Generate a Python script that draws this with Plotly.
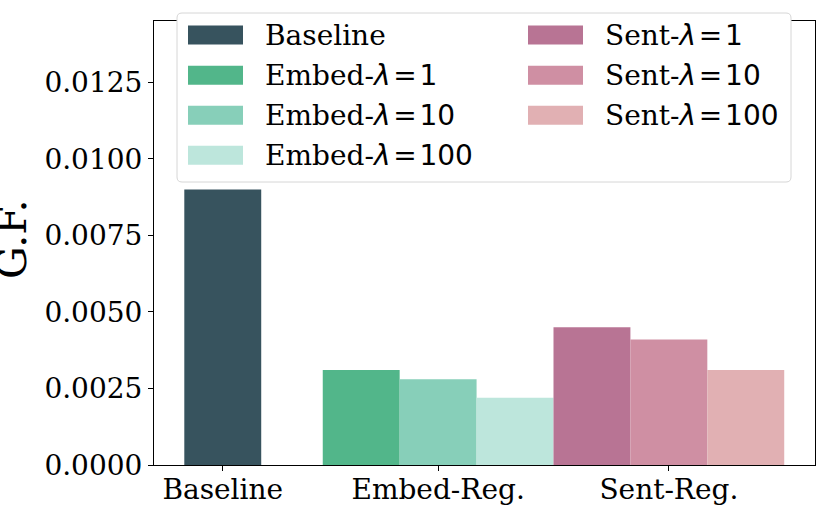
import plotly.graph_objects as go

# chart values
groups = ['Baseline', 'Embed-Reg.', 'Sent-Reg.']
series_names = ['Baseline', 'Embed-λ=1', 'Embed-λ=10', 'Embed-λ=100',
                'Sent-λ=1', 'Sent-λ=10', 'Sent-λ=100']
series_group = [0, 1, 1, 1, 2, 2, 2]
series_values = [0.0090, 0.0031, 0.0028, 0.0022, 0.0045, 0.0041, 0.0031]
y_ticks = [0, 0.0025, 0.0050, 0.0075, 0.0100, 0.0125]
legend_prefix = ['Baseline', 'Embed-', 'Embed-', 'Embed-', 'Sent-', 'Sent-', 'Sent-']
legend_lambda = [None, '1', '10', '100', '1', '10', '100']

# layout / style (kept apart from the data)
group_centers = [0, 2.8, 5.8]
bar_offsets = [0, -1, 0, 1, -1, 0, 1]
colors = ['#37535e', '#52b68a', '#87cfb9', '#bde6dc',
          '#b87494', '#cf8fa3', '#e1b0b3']

W, H = 830, 519
L, R, T, B = 154, 15, 21, 54
SERIF = 'DejaVu Serif'
FS = 28
SP = '\u200a'  # hair space, mathtext puts little room round "="


def px_x(px):
    """pixel x -> paper x"""
    return (px - L) / (W - L - R)


def px_y(py):
    """pixel y (from top) -> paper y"""
    return (H - B - py) / (H - T - B)


def legend_text(prefix, lam):
    """matplotlib mathtext look: serif prefix, sans italic lambda part"""
    if lam is None:
        return prefix
    return (f'{prefix}<span style="font-family:DejaVu Sans"><i>λ</i>'
            f'{SP}={SP}{lam}</span>')


fig = go.Figure()

for name, g, off, val, col in zip(series_names, series_group, bar_offsets, series_values, colors):
    fig.add_trace(go.Bar(
        x=[group_centers[g] + off],
        y=[val],
        width=1,
        name=name,
        marker=dict(color=col, line=dict(width=0)),
        showlegend=False,
    ))

fig.update_layout(
    width=W, height=H,
    margin=dict(l=L, r=R, t=T, b=B, autoexpand=False),
    plot_bgcolor='white',
    paper_bgcolor='white',
    barmode='overlay',
    font=dict(family=SERIF, size=FS, color='black'),
)

fig.update_xaxes(
    range=[-0.894, 7.70],
    tickvals=group_centers,
    ticktext=groups,
    ticks='outside', ticklen=5, tickwidth=1, tickcolor='black',
    showline=True, linecolor='black', linewidth=1, mirror=True,
    showgrid=False, zeroline=False, automargin=False,
    ticklabelstandoff=-6,
    tickfont=dict(family=SERIF, size=FS, color='black'),
)
fig.update_yaxes(
    range=[0, 0.0145],
    tickvals=y_ticks,
    tickformat='.4f',
    ticks='outside', ticklen=5, tickwidth=1, tickcolor='black',
    showline=True, linecolor='black', linewidth=1, mirror=True,
    showgrid=False, zeroline=False, automargin=False,
    tickfont=dict(family=SERIF, size=FS, color='black'),
)

# y axis title
fig.add_annotation(
    text='G.F.', xref='paper', yref='paper',
    x=px_x(12), y=px_y(240), xanchor='center', yanchor='middle',
    textangle=-90, showarrow=False,
    font=dict(family=SERIF, size=41, color='black'),
)

# legend drawn by hand to get matplotlib-like wide swatches
lx0, lx1, ly0, ly1, rad = 177, 791, 13, 182, 5
box = (f'M {px_x(lx0 + rad)},{px_y(ly0)} L {px_x(lx1 - rad)},{px_y(ly0)} '
       f'Q {px_x(lx1)},{px_y(ly0)} {px_x(lx1)},{px_y(ly0 + rad)} '
       f'L {px_x(lx1)},{px_y(ly1 - rad)} '
       f'Q {px_x(lx1)},{px_y(ly1)} {px_x(lx1 - rad)},{px_y(ly1)} '
       f'L {px_x(lx0 + rad)},{px_y(ly1)} '
       f'Q {px_x(lx0)},{px_y(ly1)} {px_x(lx0)},{px_y(ly1 - rad)} '
       f'L {px_x(lx0)},{px_y(ly0 + rad)} '
       f'Q {px_x(lx0)},{px_y(ly0)} {px_x(lx0 + rad)},{px_y(ly0)} Z')
fig.add_shape(type='path', path=box, xref='paper', yref='paper',
              fillcolor='white', line=dict(color='#d6d6d6', width=1), layer='above')

col_x = [188, 528]
row_y = [35, 75.3, 115.3, 155.3]
sw_w, sw_h = 55, 19
slots = [(0, 0), (0, 1), (0, 2), (0, 3), (1, 0), (1, 1), (1, 2)]
for (c, r), pre, lam, col in zip(slots, legend_prefix, legend_lambda, colors):
    sx, sy = col_x[c], row_y[r]
    fig.add_shape(type='rect', xref='paper', yref='paper',
                  x0=px_x(sx), x1=px_x(sx + sw_w),
                  y0=px_y(sy - sw_h / 2), y1=px_y(sy + sw_h / 2),
                  fillcolor=col, line=dict(width=0), layer='above')
    fig.add_annotation(text=legend_text(pre, lam), xref='paper', yref='paper',
                       x=px_x(sx + 75), y=px_y(sy), xanchor='left', yanchor='middle',
                       showarrow=False,
                       font=dict(family=SERIF, size=FS, color='black'))

# the page's default body margin would push the figure 8px in
fig.write_html('out.html', config={'displayModeBar': False},
               post_script="document.body.style.margin='0';")
